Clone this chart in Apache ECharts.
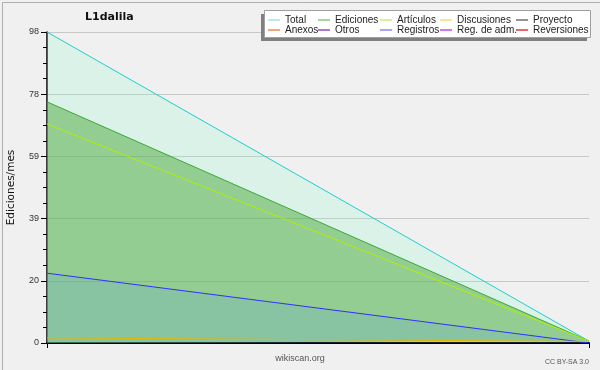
<!DOCTYPE html>
<html><head><meta charset="utf-8">
<script src="https://cdn.jsdelivr.net/npm/echarts@6/dist/echarts.min.js"></script>
<style>html,body{margin:0;padding:0;background:#f0f0f0}#c{width:600px;height:370px}</style>
</head><body><div id="c"></div>
<script>
const categories = ['mes 1', 'mes 2'];
const total = [98, 0.6];
const ediciones = [76, 0.6];
const articulos = [69, 0.6];
const discusiones = [1.6, 0.5];
const registros = [22, 0];
const emptySeries = [null, null];
const yTicks = [0, 20, 39, 59, 78, 98];
const legendCols = [['Total', 'Anexos'], ['Ediciones', 'Otros'], ['Artículos', 'Registros'], ['Discusiones', 'Reg. de adm.'], ['Proyecto', 'Reversiones']];
const legendColors = {
  'Total': '#a8e4e0', 'Ediciones': '#88c888', 'Artículos': '#c8f070', 'Discusiones': '#ffd870',
  'Proyecto': '#707070', 'Anexos': '#f08848', 'Otros': '#9048c8', 'Registros': '#8888f0',
  'Reg. de adm.': '#c848e0', 'Reversiones': '#e03838'
};
const legendLeft = [268, 318, 380, 440, 516];

const chart = echarts.init(document.getElementById('c'));
const font = 'Liberation Sans';

function lineSeries(name, data, color, area) {
  const s = { name, type: 'line', data, symbol: 'none', silent: true,
    itemStyle: { color: legendColors[name] },
    lineStyle: { color, width: 1 } };
  if (area) s.areaStyle = { color: area, opacity: 1 };
  return s;
}

const series = [
  lineSeries('Total', total, '#22cccc', 'rgba(133,249,206,0.2)'),
  lineSeries('Ediciones', ediciones, '#3aaa3a', 'rgba(77,167,60,0.5)'),
  lineSeries('Artículos', articulos, '#b0f000', null),
  lineSeries('Registros', registros, '#3030ff', 'rgba(92,154,232,0.2)'),
  lineSeries('Discusiones', discusiones, '#e0b800', null),
  lineSeries('Proyecto', emptySeries, '#606060', null),
  lineSeries('Anexos', emptySeries, '#f08040', null),
  lineSeries('Otros', emptySeries, '#8040c0', null),
  lineSeries('Reg. de adm.', emptySeries, '#c040e0', null),
  lineSeries('Reversiones', emptySeries, '#e03030', null)
];

const legends = legendCols.map((col, i) => ({
  orient: 'vertical', left: legendLeft[i], top: 15, padding: 0, itemGap: 0, z: 20,
  itemWidth: 12, itemHeight: 1.5, icon: 'rect', selectedMode: false,
  textStyle: { fontFamily: font, fontSize: 10, lineHeight: 10, color: '#222', padding: [0, 0, 0, 0] },
  data: col.map(n => ({ name: n, itemStyle: { color: legendColors[n] } }))
}));

chart.setOption({
  backgroundColor: '#f0f0f0',
  animation: false,
  title: { text: 'L1dalila', left: 85, top: 12, padding: 0,
    textStyle: { fontFamily: 'DejaVu Sans', fontSize: 11, fontWeight: 'bold', color: '#111' } },
  legend: legends,
  grid: { left: 47, right: 11, top: 32, bottom: 27, outerBoundsMode: 'none', containLabel: false },
  xAxis: { type: 'category', data: categories, boundaryGap: false,
    axisLine: { lineStyle: { color: '#000', width: 2 } },
    axisTick: { show: true, length: 5, lineStyle: { color: '#000', width: 1 } },
    axisLabel: { show: false }, splitLine: { show: false } },
  yAxis: { type: 'value', min: 0, max: 98, interval: 19.6,
    name: 'Ediciones/mes', nameLocation: 'middle', nameGap: 30, nameRotate: 90,
    nameTextStyle: { fontFamily: 'DejaVu Sans', fontSize: 10.5, color: '#111' },
    axisLine: { show: true, lineStyle: { color: '#000', width: 1.5 } },
    axisTick: { show: true, length: 6, lineStyle: { color: '#000' } },
    minorTick: { show: true, splitNumber: 4, length: 4, lineStyle: { color: '#000' } },
    axisLabel: { fontFamily: font, fontSize: 9, color: '#333', margin: 8,
      formatter: v => String(yTicks[Math.round(v / 19.6)]) },
    splitLine: { show: true, lineStyle: { color: '#c8c8c8', width: 1 } } },
  graphic: [
    { type: 'rect', left: 0, top: 0, shape: { x: 0.5, y: 0.5, width: 599, height: 369 }, style: { fill: null, stroke: '#b0b0b0', lineWidth: 1 }, z: -1, silent: true },
    { type: 'rect', shape: { x: 261, y: 14, width: 326, height: 27 }, style: { fill: '#808080' }, z: 1, silent: true },
    { type: 'rect', shape: { x: 264.5, y: 10.5, width: 326, height: 27 }, style: { fill: '#ffffff', stroke: '#a0a0a0', lineWidth: 1 }, z: 2, silent: true },
    { type: 'text', x: 300, y: 359, style: { text: 'wikiscan.org', fontFamily: font, fontSize: 9, fill: '#555', textAlign: 'center', textVerticalAlign: 'middle' }, z: 10 },
    { type: 'text', x: 589, y: 362, style: { text: 'CC BY-SA 3.0', fontFamily: font, fontSize: 7, fill: '#555', textAlign: 'right', textVerticalAlign: 'middle' }, z: 10 }
  ],
  series
});
</script></body></html>
